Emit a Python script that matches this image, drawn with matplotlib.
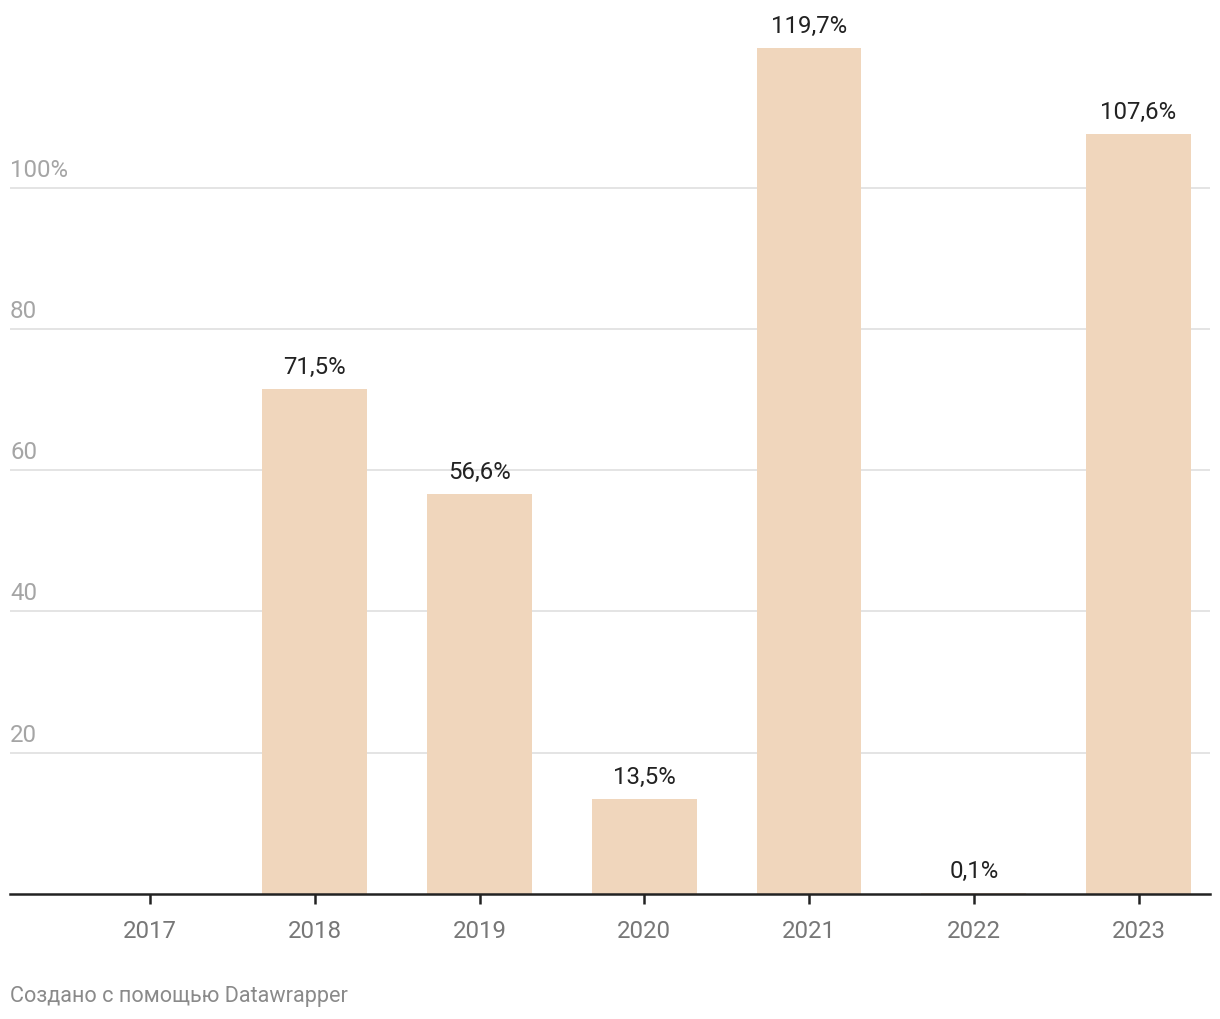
import numpy as np
import matplotlib
matplotlib.use("Agg")
import matplotlib.pyplot as plt
from matplotlib.transforms import blended_transform_factory

plt.rcParams["font.family"] = ["Roboto", "DejaVu Sans"]

# growth by year, 2017 has no value
years = ["2017", "2018", "2019", "2020", "2021", "2022", "2023"]
values = [np.nan, 71.5, 56.6, 13.5, 119.7, 0.1, 107.6]
labels = ["", "71,5%", "56,6%", "13,5%", "119,7%", "0,1%", "107,6%"]
y_ticks = [20, 40, 60, 80, 100]
y_tick_labels = ["20", "40", "60", "80", "100%"]

W, H = 1220, 1020
base, top = 895, 22
fig = plt.figure(figsize=(W / 100, H / 100), dpi=100)
ax = fig.add_axes([10 / W, (H - base) / H, 1200 / W, (base - top) / H])

x = np.arange(len(years))
ax.bar(x, values, width=0.637, color="#f0d6bc", zorder=2)

ax.set_xlim(-0.850, 6.434)
ax.set_ylim(0, (base - top) / 7.065)

# gridlines and y labels above them
trans = blended_transform_factory(ax.transAxes, ax.transData)
for t, lab in zip(y_ticks, y_tick_labels):
    ax.axhline(t, color="#e2e2e2", lw=1.3, zorder=1)
    ax.annotate(lab, (0, t), xycoords=trans, xytext=(0, 5), textcoords="offset points",
                ha="left", va="bottom", fontsize=17.3, color="#a5a5a5")

# value labels
for xi, v, lab in zip(x, values, labels):
    if lab:
        ax.annotate(lab, (xi, v), xytext=(0, 8), textcoords="offset points",
                    ha="center", va="bottom", fontsize=17.3, color="#222222",
                    annotation_clip=False)

for s in ["top", "right", "left"]:
    ax.spines[s].set_visible(False)
ax.spines["bottom"].set_color("#222222")
ax.spines["bottom"].set_linewidth(1.8)
ax.spines["bottom"].set_zorder(3)

ax.set_yticks([])
ax.set_xticks(x)
ax.set_xticklabels(years, fontsize=17.3, color="#777777")
ax.tick_params(axis="x", length=7, width=1.8, color="#222222", pad=11)

fig.text(10 / W, 1 - 997 / H, "Создано с помощью Datawrapper", ha="left", va="center",
         fontsize=15.6, color="#8a8a8a")

fig.savefig("out.png", dpi=100)
